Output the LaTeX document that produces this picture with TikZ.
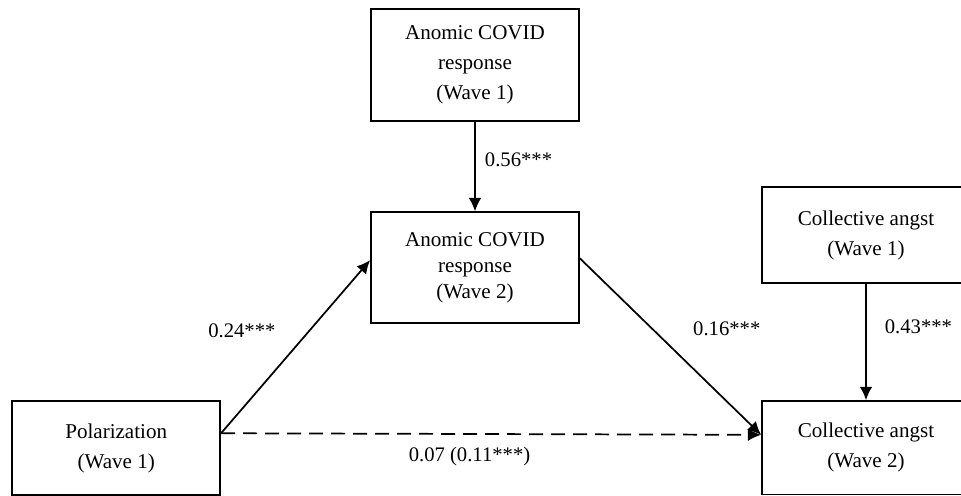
\documentclass[tikz,border=0pt]{standalone}
\usepackage{fontspec}
\setmainfont{Liberation Serif}
\usetikzlibrary{arrows.meta,positioning}

\begin{document}
\begin{tikzpicture}[x=0.75pt, y=-0.75pt]
  \clip (0, 0) rectangle (961, 496);  % Bildausschnitt wie Vorlage.
  \tikzstyle{box}=[rectangle, draw, line width=1.3pt, minimum width=156pt, align=center, inner sep=0pt, font=\fontsize{15.8}{22.5}\selectfont]
  \tikzstyle{effect}=[draw, line width=1.3pt, -{Latex[length=10pt, width=9.5pt]}]
  \tikzstyle{direct}=[effect, dash pattern=on 10.5pt off 6pt]
  \tikzstyle{weight}=[inner sep=2pt, font=\fontsize{15.5}{18}\selectfont]

  \node[box, minimum height=84pt] (aw1) at (475, 65)   {Anomic COVID\\response\\(Wave 1)};
  \node[box, minimum height=83pt, font=\fontsize{15.8}{19.5}\selectfont] (aw2) at (475, 267.5) {Anomic COVID\\response\\(Wave 2)};
  \node[box, minimum height=70.5pt] (pol) at (116.2, 448) {Polarization\\(Wave 1)};
  \node[box, minimum height=72pt] (ca1) at (866, 235)   {Collective angst\\(Wave 1)};
  \node[box, minimum height=70pt] (ca2) at (866, 447.7) {Collective angst\\(Wave 2)};

  \path (aw1) edge[effect] node[weight, pos=0.42, right=4.8pt] (w1) {0.56***} (aw2);
  \path (pol.8) edge[effect] node[weight, pos=0.59, left=22.5pt] (w2) {0.24***} (aw2.176);
  \path (aw2.5) edge[effect] node[weight, pos=0.40, right=28pt] (w3) {0.16***} (ca2.173);
  \path (ca1) edge[effect] node[weight, pos=0.37, right=11.5pt] (w4) {0.43***} (ca2);
  \path (pol.8) edge[direct] node[weight, pos=0.46, yshift=-17pt] (w5) {0.07 (0.11***)} (ca2.173);
\end{tikzpicture}
\end{document}
